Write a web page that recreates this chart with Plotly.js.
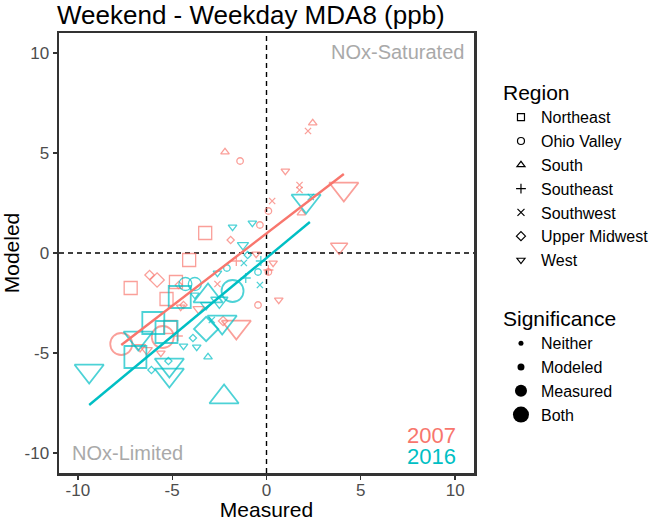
<!DOCTYPE html>
<html><head><meta charset="utf-8">
<script src="https://cdn.plot.ly/plotly-3.0.1.min.js"></script>
<style>html,body{margin:0;padding:0;background:#fff}</style>
</head><body><div id="chart" style="width:666px;height:521px"></div>
<script>
// ---- data ----
const regions = ['Northeast','Ohio Valley','South','Southeast','Southwest','Upper Midwest','West'];
const significance = ['Neither','Modeled','Measured','Both'];
const xTickVals = [-10,-5,0,5,10];
const xTickText = ['-10','-5','0','5','10'];
const yTickVals = [-10,-5,0,5,10];
const yTickText = ['-10','-5','0','5','10'];

// 2007 sites: measured (x), modeled (y), region, significance
const x2007 = [-2.2,-1.4,2.45,2.2,1.0,1.75,1.75,1.85,4.1,3.85,0.3,0.1,-0.35,-3.25,-1.9,-0.55,-1.6,0.35,0.1,0.1,-0.45,0.65,-4.1,-7.2,-6.2,-5.8,-4.8,-5.3,-4.65,-2.6,-1.6,-7.7,-5.5,-5.1,-6.7,-4.55,-3.6,-6.35,-5.6,-2.3,-4.7,-4.4];
const y2007 = [5.05,4.6,6.5,6.1,4.1,3.4,3.15,2.0,3.2,0.3,2.6,2.1,1.4,1.0,0.65,-0.05,-0.4,-0.5,-0.95,-0.85,-2.6,-2.35,-0.35,-1.75,-1.1,-1.35,-1.45,-2.3,-1.6,-1.55,-3.7,-4.55,-4.2,-3.7,-4.7,-2.7,-2.8,-4.85,-5.0,-3.4,-4.15,-2.6];
const region2007 = ['South','Ohio Valley','South','Southwest','West','Southwest','Southwest','South','West','West','Southwest','Ohio Valley','Ohio Valley','Northeast','Upper Midwest','West','Southeast','West','Ohio Valley','Southeast','Ohio Valley','West','Northeast','Northeast','Upper Midwest','Upper Midwest','Northeast','Northeast','Upper Midwest','Southwest','West','Ohio Valley','Ohio Valley','Northeast','West','West','West','West','West','Upper Midwest','Southeast','Upper Midwest'];
const sig2007 = ['Neither','Neither','Neither','Neither','Neither','Neither','Neither','Neither','Both','Measured','Neither','Neither','Neither','Measured','Neither','Neither','Neither','Neither','Neither','Neither','Neither','Neither','Measured','Measured','Modeled','Measured','Measured','Measured','Neither','Neither','Both','Both','Both','Measured','Modeled','Neither','Modeled','Modeled','Neither','Modeled','Neither','Neither'];

// 2016 sites
const x2016 = [-0.75,-1.8,-1.25,-1.0,-1.2,-0.45,-0.35,-0.3,-1.1,-2.6,-2.1,2.1,2.35,-4.3,-3.8,-4.6,-3.1,-1.8,-2.5,-3.8,-2.35,-3.2,-6.0,-5.3,-6.8,-6.95,-5.15,-5.15,-6.1,-5.2,-9.4,-2.25,-3.1,-3.9,-3.7,-2.9,-3.2,-4.4];
const y2016 = [1.5,1.3,0.4,-0.1,-0.5,-0.95,-1.6,-0.4,-1.25,-1.0,-0.75,2.6,2.8,-1.55,-1.55,-2.2,-2.15,-1.9,-2.4,-2.1,-3.45,-3.8,-3.5,-3.95,-4.25,-5.2,-5.6,-6.1,-5.85,-5.4,-5.9,-7.2,-5.2,-4.25,-4.7,-3.35,-2.6,-4.65];
const region2016 = ['West','West','West','Upper Midwest','Southwest','Ohio Valley','Southwest','Southeast','Southeast','West','Ohio Valley','West','Southwest','Ohio Valley','Ohio Valley','Northeast','South','Ohio Valley','West','West','West','Upper Midwest','Northeast','Northeast','West','Northeast','West','West','Upper Midwest','Upper Midwest','West','South','South','Upper Midwest','West','Southwest','West','West'];
const sig2016 = ['Neither','Neither','Modeled','Neither','Neither','Neither','Neither','Neither','Neither','Neither','Neither','Both','Neither','Measured','Measured','Both','Both','Both','Measured','Neither','Both','Both','Both','Both','Both','Both','Both','Both','Neither','Neither','Both','Both','Neither','Neither','Neither','Neither','Modeled','Neither'];

// fitted lines (end points)
const fit2007x = [-7.7, 4.1];
const fit2007y = [-4.6, 3.95];
const fit2016x = [-9.4, 2.3];
const fit2016y = [-7.6, 1.55];

// ---- styles ----
const FONT = 'Liberation Sans, Arial, sans-serif';
const colors = {'2007':'#F8766D','2016':'#00BFC4'};
const symbols = {'Northeast':'square-open','Ohio Valley':'circle-open','South':'triangle-up-open','Southeast':'cross-thin-open','Southwest':'x-thin-open','Upper Midwest':'diamond-open','West':'triangle-down-open'};
const symScale = {'Northeast':1.0,'Ohio Valley':1.0,'South':1.15,'Southeast':1.1,'Southwest':0.95,'Upper Midwest':0.85,'West':1.15};
const sizeMap = {'Neither':6.5,'Modeled':8.5,'Measured':13,'Both':22};
const legSize = {'Neither':5,'Modeled':7,'Measured':12,'Both':18};

const traces = [];
function addYear(yr, xs, ys, regs, sigs){
  regions.forEach(r => {
    const idx = xs.map((_,i)=>i).filter(i=>regs[i]===r);
    if(!idx.length) return;
    traces.push({
      type:'scatter', mode:'markers', showlegend:false, hoverinfo:'skip',
      x: idx.map(i=>xs[i]), y: idx.map(i=>ys[i]),
      marker:{symbol:symbols[r], color:colors[yr],
        size: idx.map(i=>sizeMap[sigs[i]]*symScale[r]),
        line:{width: idx.map(i=> sigs[i]==='Both'?1.8:1.3), color:colors[yr]}}
    });
  });
}
addYear('2007', x2007, y2007, region2007, sig2007);
addYear('2016', x2016, y2016, region2016, sig2016);

traces.push({type:'scatter',mode:'lines',x:fit2007x,y:fit2007y,showlegend:false,hoverinfo:'skip',line:{color:colors['2007'],width:2.4}});
traces.push({type:'scatter',mode:'lines',x:fit2016x,y:fit2016y,showlegend:false,hoverinfo:'skip',line:{color:colors['2016'],width:2.4}});

// legend entries
regions.forEach(r => traces.push({type:'scatter',mode:'markers',x:[null],y:[null],name:r,legend:'legend',
  marker:{symbol:symbols[r],color:'#000',size:7,line:{width:1.2,color:'#000'}}}));
significance.forEach(s => traces.push({type:'scatter',mode:'markers',x:[null],y:[null],name:s,legend:'legend2',
  marker:{symbol:'circle',color:'#000',size:legSize[s]}}));

const axisCommon = {range:[-11,11], showgrid:false, zeroline:false, ticks:'outside', ticklen:4, tickwidth:1.3,
  tickcolor:'#333333', showline:true, mirror:true, linecolor:'#333333', linewidth:2.5,
  tickfont:{size:17, color:'#4D4D4D', family:FONT}, tickmode:'array'};

const layout = {
  width:666, height:521,
  margin:{l:59, r:177, t:33, b:48},
  paper_bgcolor:'#fff', plot_bgcolor:'#fff',
  font:{family:FONT, color:'#000'},
  title:{text:'Weekend - Weekday MDA8 (ppb)', font:{size:26, color:'#000', family:FONT},
    xref:'container', x:57/666, xanchor:'left', yref:'container', y:1-15/521, yanchor:'middle'},
  xaxis:Object.assign({}, axisCommon, {tickvals:xTickVals, ticktext:xTickText, ticklabelstandoff:-4,
    title:{text:'Measured', font:{size:21,color:'#000',family:FONT}, standoff:2}}),
  yaxis:Object.assign({}, axisCommon, {tickvals:yTickVals, ticktext:yTickText,
    title:{text:'Modeled', font:{size:21,color:'#000',family:FONT}, standoff:2}}),
  shapes:[
    {type:'line', xref:'x', yref:'y', x0:0, x1:0, y0:-11, y1:11, layer:'below', line:{color:'#000', width:1.4, dash:'5px,4px'}},
    {type:'line', xref:'x', yref:'y', x0:-11, x1:11, y0:0, y1:0, layer:'below', line:{color:'#000', width:1.4, dash:'5px,4px'}}
  ],
  annotations:[
    {text:'NOx-Saturated', xref:'x', yref:'y', x:10.6, y:10.05, xanchor:'right', yanchor:'middle', showarrow:false, font:{size:20,color:'#A9A9A9',family:FONT}},
    {text:'NOx-Limited', xref:'x', yref:'y', x:-10.4, y:-10.0, xanchor:'left', yanchor:'middle', showarrow:false, font:{size:20,color:'#A9A9A9',family:FONT}},
    {text:'2007', xref:'x', yref:'y', x:10.15, y:-9.1, xanchor:'right', yanchor:'middle', showarrow:false, font:{size:22,color:colors['2007'],family:FONT}},
    {text:'2016', xref:'x', yref:'y', x:10.15, y:-10.15, xanchor:'right', yanchor:'middle', showarrow:false, font:{size:22,color:colors['2016'],family:FONT}}
  ],
  legend:{x:1.065, xanchor:'left', y:(473-73)/440, yanchor:'top', bgcolor:'rgba(0,0,0,0)',
    title:{text:'Region', font:{size:21,color:'#000',family:FONT}}, font:{size:16,color:'#000',family:FONT}, itemclick:false},
  legend2:{x:1.065, xanchor:'left', y:(473-299)/440, yanchor:'top', bgcolor:'rgba(0,0,0,0)',
    title:{text:'Significance', font:{size:21,color:'#000',family:FONT}}, font:{size:16,color:'#000',family:FONT}, itemclick:false},
  showlegend:true
};

Plotly.newPlot('chart', traces, layout, {staticPlot:true, displayModeBar:false});
</script></body></html>
